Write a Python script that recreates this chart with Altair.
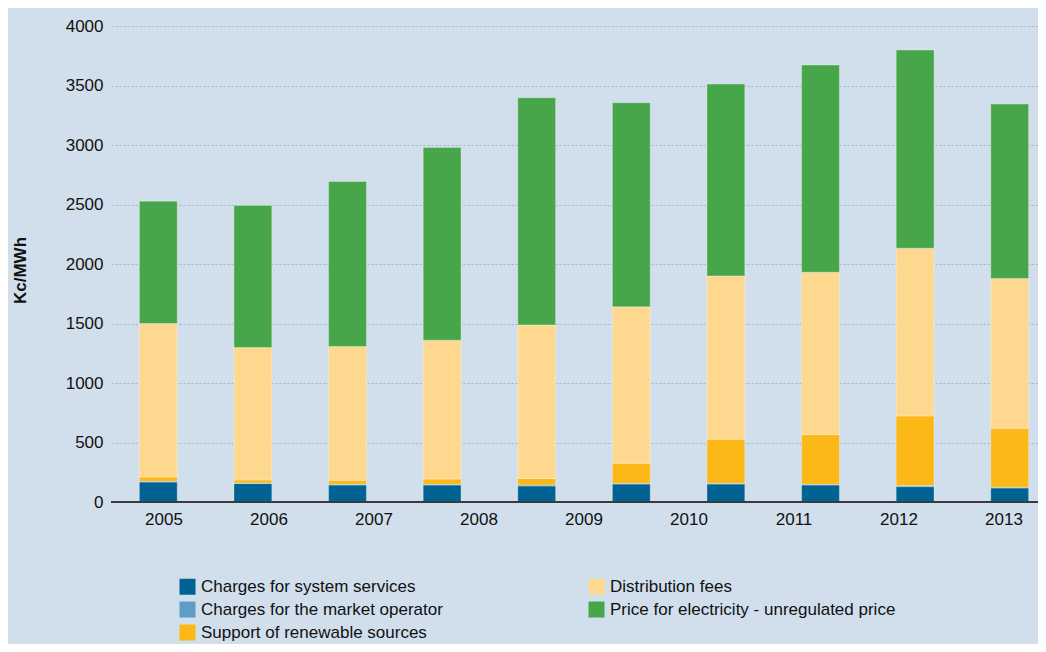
import altair as alt
import pandas as pd

# ---- data ----
bar_keys = ["b01", "b02", "b03", "b04", "b05", "b06", "b07", "b08", "b09", "b10"]
tick_labels = ["2005", "2006", "2007", "2008", "2009", "2010", "2011", "2012", "2013"]

series_names = [
    "Charges for system services",
    "Charges for the market operator",
    "Support of renewable sources",
    "Distribution fees",
    "Price for electricity - unregulated price",
]
system_services = [168, 155, 143, 143, 135, 151, 151, 143, 129, 118]
market_operator = [6, 5, 6, 6, 8, 6, 6, 6, 9, 6]
renewables = [36, 25, 33, 44, 54, 168, 370, 418, 585, 496]
distribution = [1290, 1113, 1125, 1167, 1291, 1315, 1373, 1364, 1410, 1258]
electricity = [1028, 1194, 1387, 1620, 1909, 1715, 1612, 1741, 1665, 1466]

series_values = [system_services, market_operator, renewables, distribution, electricity]
series_colors = ["#006394", "#5e9dc8", "#fbb817", "#fed88f", "#47a64a"]

rows = []
for si, (name, vals) in enumerate(zip(series_names, series_values)):
    for key, v in zip(bar_keys, vals):
        rows.append({"bar": key, "series": name, "value": v, "ord": si})
df = pd.DataFrame(rows)

FONT = "Liberation Sans, Arial, sans-serif"
BG = "#d0dfeb"

bars = alt.Chart(df).mark_bar(stroke="white", strokeOpacity=0.3, strokeWidth=1).encode(
    x=alt.X(
        "bar:N",
        sort=bar_keys,
        axis=None,
        scale=alt.Scale(range=[0, 946], paddingInner=0.6, paddingOuter=0.3),
    ),
    y=alt.Y(
        "value:Q",
        stack="zero",
        scale=alt.Scale(domain=[0, 4000], nice=False),
        axis=alt.Axis(
            values=[0, 500, 1000, 1500, 2000, 2500, 3000, 3500, 4000],
            format="d",
            title="Kc/MWh",
            titleFont=FONT,
            titleFontSize=17,
            titleFontWeight="bold",
            titleColor="#111111",
            titleAngle=270,
            titleAlign="center",
            titleBaseline="middle",
            titleX=-91,
            titleY=244,
            labelFont=FONT,
            labelFontSize=17,
            labelColor="#111111",
            labelPadding=8,
            ticks=False,
            domain=False,
            grid=True,
            gridColor="#a9b3bd",
            gridDash=[2, 2],
            gridWidth=1,
        ),
    ),
    color=alt.Color(
        "series:N",
        scale=alt.Scale(domain=series_names, range=series_colors),
        legend=alt.Legend(
            title=None,
            orient="none",
            legendX=68,
            legendY=552,
            columns=2,
            columnPadding=145,
            rowPadding=5,
            padding=0,
            symbolType="square",
            symbolSize=256,
            symbolStrokeWidth=0,
            labelFont=FONT,
            labelFontSize=17,
            labelColor="#111111",
            labelOffset=5,
            labelLimit=400,
        ),
    ),
    order=alt.Order("ord:Q"),
)

baseline = alt.Chart(pd.DataFrame({"v": [0]})).mark_rule(color="#3a3a3a", strokeWidth=2).encode(
    y=alt.Y("v:Q")
)

labels = alt.Chart(pd.DataFrame({"year": tick_labels})).mark_point(opacity=0).encode(
    x=alt.X(
        "year:N",
        sort=tick_labels,
        scale=alt.Scale(type="point", range=[0, 945], padding=0.5),
        axis=alt.Axis(
            orient="bottom",
            title=None,
            domain=False,
            ticks=False,
            grid=False,
            labelFont=FONT,
            labelFontSize=17,
            labelColor="#111111",
            labelPadding=9,
            labelAngle=0,
        ),
    ),
)

chart = (
    alt.layer(bars, baseline, labels)
    .resolve_scale(x="independent")
    .properties(
        width=927,
        height=476,
        autosize=alt.AutoSizeParams(type="none"),
        padding={"left": 103, "top": 18, "right": 0, "bottom": 142},
        background=BG,
    )
    .configure_view(stroke=None)
)

chart.save("out.html", embed_options={"renderer": "svg", "actions": False})
